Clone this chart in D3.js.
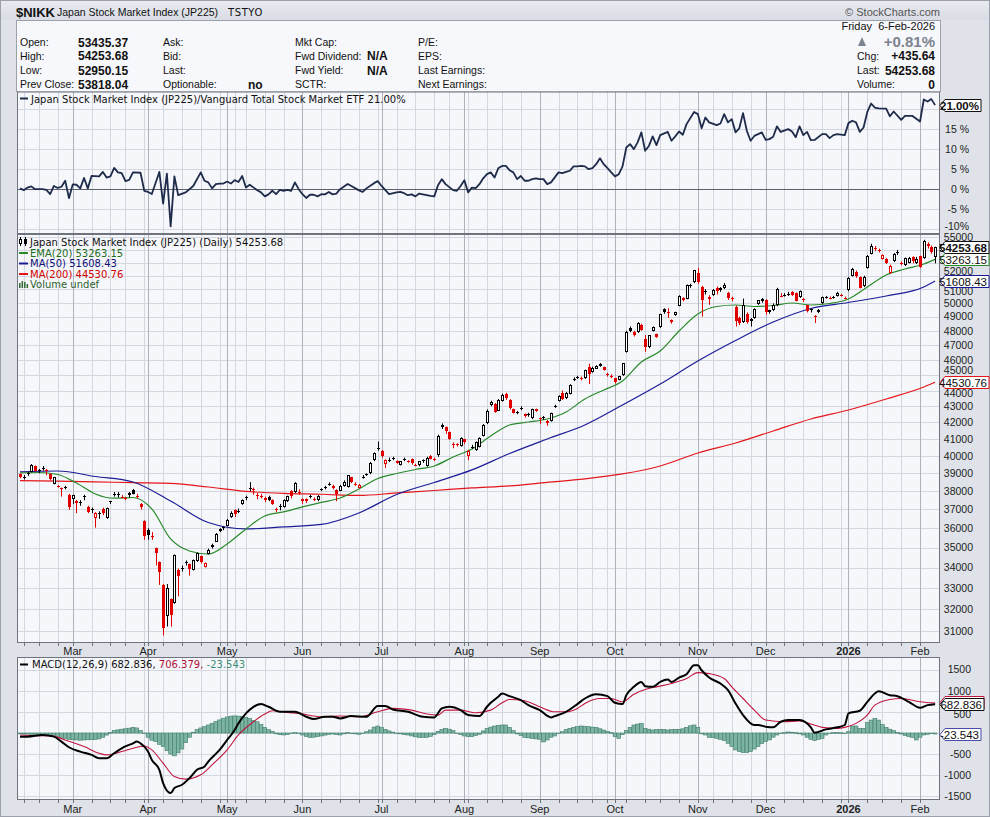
<!DOCTYPE html>
<html><head><meta charset="utf-8">
<script src="https://cdn.jsdelivr.net/npm/d3@7"></script>
<style>
body{margin:0;background:#fff;}
svg{display:block;font-family:"Liberation Sans",Arial,sans-serif;}
</style></head><body>
<svg id="chart" width="990" height="817"></svg>
<script>
// trading calendar (TSE)
var firstDay = "2025-02-07", lastDay = "2026-02-06";
var holidays = ["2025-02-11","2025-02-24","2025-03-20","2025-04-29","2025-05-05","2025-05-06","2025-07-21","2025-08-11","2025-09-15","2025-09-23","2025-10-13","2025-11-03","2025-11-24","2025-12-31","2026-01-01","2026-01-02","2026-01-12"];
var monthLabels = ["Mar","Apr","May","Jun","Jul","Aug","Sep","Oct","Nov","Dec","2026","Feb"];

var open = [38950,38780,39010,39100,39400,39150,39300,39180,38950,38400,
38290,38160,38230,37800,37560,37460,37400,37750,37157,37000,
36550,36800,37050,36540,37450,37830,37840,37700,37620,37880,
38065,37750,37300,36390,35915,35600,34970,34260,33150,31660,
32470,32280,33890,33950,34250,34180,33880,34300,34550,34050,
34700,35140,35310,35950,36000,36120,36590,36950,36900,37270,
37680,38150,38140,37800,37760,37650,37690,37500,37050,37140,
37120,37460,38000,37960,37980,37550,37550,37720,37570,37500,
38100,38200,38400,38280,38057,38020,38280,38243,38770,38420,
38200,38760,38920,39000,39757,40450,40300,39520,39760,39900,
39700,39500,39800,39700,39800,39470,39450,39740,39400,39990,
39800,40040,41700,41700,41400,40720,40700,40600,40970,40000,
40530,40340,40550,41170,41940,43100,43150,42730,43360,43780,
43400,42800,42620,42900,42500,42480,42250,42800,42280,42300,
42080,42080,43000,43316,43840,43500,43780,44750,44880,44800,
44800,45500,45180,45420,45600,45520,45060,44950,44780,44700,
45000,46550,48181,47900,47900,48415,47450,46850,48000,47760,
48230,49550,49330,48740,49100,49790,50330,50300,51250,51500,
52200,51180,50850,50450,50600,51050,50900,51100,50700,50350,
49700,48900,48600,49200,48800,48900,49900,50100,50200,49450,
49450,49800,50500,50560,50640,50800,50700,50400,50300,49800,
49490,49020,49300,49950,50390,50360,50390,50500,50550,50360,
50900,52000,52300,51900,51200,52600,53700,54130,53960,53300,
53300,52200,53100,53820,53000,52800,53000,53420,52950,53500,
53350,54500,54200,53435.37];
var high = [38980,38900,39100,39530,39450,39250,39420,39250,38990,38800,
38330,38200,38300,37850,37800,37520,37500,37800,37200,37100,
36850,36900,37100,37100,37450,37950,37950,37780,37700,37950,
38120,37850,37350,36420,36000,35800,35000,34300,33200,33190,
32500,34650,33950,34100,34350,34200,34400,34750,34600,34250,
34950,35200,35750,36000,36100,36500,36900,37000,37050,37550,
37750,38500,38200,37900,37850,37700,37750,37550,37100,37300,
37550,37750,38050,38500,38100,37600,37600,37800,37650,37780,
38150,38300,38500,38350,38100,38350,38600,38900,38800,38500,
38400,38900,39000,39650,40200,40850,40350,39800,39900,39950,
39750,39700,39900,39750,39850,39550,39700,39800,39950,40050,
39900,41250,41940,41750,41450,40800,40750,41100,41000,40350,
40650,40850,41100,41900,42800,43350,43200,43450,43800,43850,
43450,42850,42700,43000,42550,42600,42850,42850,42300,42400,
42150,42600,43100,43700,44000,43900,44400,44850,44950,44900,
45350,45750,45550,45650,45800,45550,45150,45050,44800,44950,
45800,48000,48300,48000,48600,48500,47700,47700,48300,47800,
49200,49600,49600,48800,49350,50550,50400,51350,51400,52450,
52600,51250,51000,50550,51000,51200,51150,51450,50800,50450,
49800,49000,50300,49300,48900,49600,50200,50350,50250,49500,
49950,51100,50700,50700,50800,50850,50750,50900,50350,49850,
49600,49100,49550,50450,50500,50450,50500,50800,50650,50450,
51900,52600,52400,51950,52000,53600,54487,54300,54100,53650,
53350,52850,53750,54000,53100,53400,53450,53500,53450,53550,
54800,54600,54350,54253.68];
var low = [38720,38650,38850,39050,39100,39000,39150,38900,38600,38380,
38200,37700,38100,36980,37300,36800,37200,37500,36800,36800,
36034,36500,36700,36500,37300,37700,37650,37600,37500,37650,
37820,37600,37000,35400,35400,35400,34100,33150,30792,31200,
31200,32250,32600,33800,34100,33600,33850,34280,34200,34000,
34650,34950,35300,35800,35900,36100,36550,36600,36800,37250,
37500,38000,37800,37550,37600,37400,37450,37250,36850,36950,
37100,37400,37600,37900,37800,37300,37350,37600,37450,37450,
38000,38100,38300,38100,37450,38000,38250,38200,38450,38300,
38150,38700,38850,38950,39700,40300,39900,39300,39650,39750,
39550,39450,39700,39600,39500,39400,39400,39600,39380,39800,
39700,39950,41600,41300,40950,40450,40550,40550,40700,39757,
40400,40300,40500,41150,41900,43000,42600,42700,43300,43400,
42800,42550,42500,42750,42300,42350,42200,42650,41900,42150,
41800,42050,42900,43300,43400,43450,43750,44600,44750,44650,
44750,44420,45150,45400,45550,45300,44900,44800,44450,44650,
44950,46500,47900,47600,47850,48000,46550,46800,47950,47500,
48200,49200,48900,48500,49050,49750,50100,50250,51100,51450,
51400,49000,50600,49850,50500,50600,50800,51000,50200,50100,
48300,48400,48550,48500,48300,48850,49850,50000,49150,49200,
49400,49750,50400,50450,50500,50500,50100,50350,50050,49300,
49300,48550,49250,49900,50300,50250,50300,50450,50450,50250,
50850,51950,51850,51050,51150,52550,53650,53900,53800,53250,
52900,52150,53050,53600,52800,52750,52950,52950,52900,52600,
53300,54100,53700,52950.15];
var close = [38787,38801,38963,39461,39149,39174,39270,39164,38678,38776,
38237,38142,38256,37155,37785,37331,37418,37705,36887,37028,
36793,36819,36790,37053,37396,37845,37860,37677,37608,37780,
37870,37734,37120,35617,35624,35580,34736,33781,31136,33012,
31714,34609,33586,33982,34267,33920,34377,34730,34280,34221,
34868,35039,35705,35840,36045,36452,36831,36780,36928,37503,
37644,38183,38128,37755,37753,37498,37529,37299,36985,37160,
37531,37724,37722,38432,37965,37470,37446,37747,37554,37741,
38088,38211,38421,38173,37834,38311,38536,38885,38488,38403,
38354,38790,38942,39584,40150,40487,39986,39762,39785,39810,
39587,39688,39821,39646,39569,39459,39678,39760,39901,39819,
39775,41171,41826,41456,40998,40674,40654,41069,40799,40290,
40549,40794,41059,41820,42718,43274,42649,43378,43714,43546,
42888,42610,42633,42807,42394,42520,42829,42718,42188,42310,
41938,42580,43018,43643,43459,43837,44372,44768,44902,44790,
45303,45045,45493,45630,45754,45355,45043,44932,44550,44936,
45769,47944,47950,47734,48580,48088,46847,47672,48277,47582,
49185,49316,49307,48641,49299,50512,50219,51307,51325,52411,
51497,50212,50883,50276,50911,50842,51063,51281,50376,50323,
48702,48537,49823,48625,48659,49559,50167,50253,49303,49330,
49864,51028,50491,50581,50655,50602,50148,50836,50168,49383,
49512,49001,49507,50402,50412,50344,50407,50750,50526,50339,
51832,52518,51961,51117,51940,53549,54341,54110,53936,53583,
52991,52774,53689,53846,52885,53333,53358,53100,53322,52655,
54720,54293,53818.04,54253.68];

var emaIdx = [0,5,10,15,20,25,30,35,40,45,50,55,60,65,70,75,80,85,90,95,100,105,110,115,120,125,130,135,140,145,150,155,160,165,170,175,180,185,190,195,200,205,210,215,220,225,230,235,240,243];
var emaVal = [39018,39046,38933,38452,37846,37611,37651,37028,35444,34829,34675,35187,35965,36651,36866,37136,37383,37623,38121,38709,38990,39217,39417,39937,40407,41179,41845,42027,42213,42647,43460,44034,44614,45864,46606,47981,49185,49727,49836,49727,49800,49980,49836,49944,50271,51161,52064,52521,52901,53263.15];
var maIdx = [0,10,20,30,40,50,60,70,80,90,100,110,120,130,140,150,160,170,180,190,200,210,220,230,240,243];
var ma50Val = [39078,39133,38820,38511,37460,36302,35965,36069,36200,36813,37817,38484,39193,40143,41000,41845,43082,44418,45930,47322,48614,49582,50017,50495,51161,51608.43];
var ma200Val = [38582,38555,38521,38471,38436,38229,37985,37874,37830,37762,37901,38037,38177,38290,38484,38682,38964,39417,40171,40762,41482,42213,42770,43460,44227,44530.76];

var ratioIdx = [0,1,2,3,4,6,7,8,9,10,11,12,13,14,15,16,17,18,19,21,22,23,24,25,26,27,28,29,30,32,33,34,35,37,38,39,40,41,42,44,46,48,49,50,51,52,53,54,55,56,57,58,59,60,61,63,64,65,66,67,68,69,70,71,72,73,74,75,76,77,78,79,80,81,82,83,84,85,87,88,90,91,92,94,95,96,98,100,101,102,103,104,105,106,108,109,110,111,112,113,115,116,117,118,119,120,121,122,123,124,125,126,127,128,129,130,131,132,133,134,135,136,137,138,139,140,141,143,144,145,146,147,148,149,150,151,152,153,154,155,156,157,158,159,160,161,162,163,164,165,166,167,168,169,170,172,173,174,175,176,177,179,180,181,182,183,185,186,187,188,189,190,191,192,193,194,195,197,198,199,200,201,202,204,205,206,207,208,209,210,211,213,214,215,216,217,219,220,221,222,223,224,225,226,227,228,230,231,232,234,235,237,239,240,241,242,243];
var ratioVal = [0.2,-0.25,0.4,0.7,0,0,-0.2,-1.25,0.8,0.3,0.6,2.1,-2.25,1.2,1.1,0.2,2.8,0.2,3.3,3.2,4.3,2.9,3.2,5.3,4.2,4.0,2.0,2.3,4.2,4.1,-0.4,-0.7,-1.2,4.3,-3.6,3.9,-9.3,3.2,-1.5,-0.8,0.8,4.2,2.1,1.7,0.2,1.25,1.4,1.4,1.9,1.4,2.25,1.8,3.3,0.4,1.1,-0.25,-0.8,-1.8,-1.3,-0.4,-1.25,-0.2,-0.4,-0.2,-0.4,1.7,0,-1.25,-2.2,-1.4,-1.4,-1.8,-1.25,-1.3,-0.7,-1.3,-1.1,0,1.3,0.8,-0.3,-0.7,0.2,1.5,2.0,0.8,-1.25,-0.8,-0.7,-1.0,-1.5,-1.3,-1.8,-1.1,-1.5,-1.7,-1.8,1.0,2.5,1.25,-0.25,-0.4,0.8,2.25,-0.8,0.4,0.25,1.25,2.7,3.75,4.2,2.9,5.2,5.8,5.8,4.75,4.2,2.5,3.3,2.1,2.1,2.5,2.7,2.5,2.5,1.25,1.7,4.2,4.0,4.3,4.6,5.7,5.7,5.8,5.7,5.0,5.25,6.25,7.7,6.25,5.25,4.2,3.2,3.75,5.7,10.4,11.25,10.0,11.7,14.2,9.6,10.8,13.2,11.0,13.5,14.3,12.1,13.2,14.4,13.6,16.25,19.3,18.75,15.2,17.9,16.7,16.0,16.4,18.75,16.7,17.5,14.2,15.2,19.0,14.6,12.1,13.3,14.2,12.3,12.5,13.1,15.7,14.3,15.0,14.4,13.0,15.7,13.5,14.3,12.25,12.3,13.75,13.75,12.75,13.5,13.75,13.5,16.5,17.1,16.7,14.3,15.4,19.3,21.4,20.4,20.2,20.1,18.2,19.4,17.3,18.3,18.3,16.9,22.4,21.9,22.5,21.0];

var macdIdx = [0,2,6,9,11,13,16,19,21,23,25,27,30,31,32,34,35,37,38,40,41,43,45,47,49,50,53,55,57,58,60,62,64,66,69,73,76,78,81,83,85,88,92,95,97,99,103,107,110,112,114,117,119,122,124,125,127,128,130,133,135,138,141,142,145,148,150,153,156,158,160,161,163,165,166,168,170,172,173,175,177,179,180,181,183,186,188,190,192,195,196,198,200,202,204,207,210,211,214,217,219,220,223,225,227,228,231,233,236,239,241,243];
var macdVal = [-86,-86,-47,-86,-204,-338,-440,-519,-597,-597,-479,-362,-244,-204,-244,-440,-637,-872,-1187,-1423,-1305,-1226,-1069,-872,-794,-676,-401,-165,71,228,464,621,684,621,503,503,385,330,385,385,346,401,385,637,637,558,503,385,369,582,621,542,424,401,621,715,857,935,872,778,660,542,369,401,503,684,817,920,872,715,684,896,1093,1210,1108,1093,1210,1265,1210,1313,1391,1603,1603,1486,1313,1171,1014,700,424,189,189,149,134,267,307,307,134,8,86,134,189,464,527,739,935,990,896,872,739,597,660,682.836];
var sigIdx = [0,4,8,12,17,21,23,27,30,33,35,38,41,44,48,51,55,58,62,65,67,71,74,80,85,90,95,99,104,108,111,113,117,121,125,128,130,134,138,142,145,148,150,154,157,160,163,166,169,173,177,180,183,187,189,192,195,198,203,207,210,213,217,219,222,225,227,231,234,239,243];
var sigVal = [-47,-63,-63,-165,-322,-479,-519,-440,-362,-307,-401,-715,-1030,-1093,-990,-755,-401,-47,267,448,527,487,464,385,401,385,503,582,542,448,424,542,542,479,542,715,794,762,621,503,503,582,700,817,817,739,920,1030,1093,1171,1289,1431,1407,1289,1093,817,542,307,267,283,212,134,110,134,228,424,660,794,817,739,706.379];
var hist = [-20,-25,-25,-30,-30,-35,-45,-55,-65,-80,
-95,-110,-130,-150,-160,-165,-170,-165,-160,-160,
-155,-140,-100,-50,10,55,75,90,100,115,
134,120,60,-10,-100,-170,-204,-270,-322,-420,
-500,-540,-470,-380,-230,-100,20,80,120,150,
190,230,270,310,350,380,400,405,400,390,
370,346,300,267,200,134,80,40,-20,-40,
-47,-40,-10,8,-10,-47,-80,-102,-100,-86,
-70,-50,-30,-24,-40,-47,-20,8,0,-20,
-30,-10,30,71,140,165,130,86,50,20,
0,-20,-40,-47,-70,-90,-102,-102,-102,-80,
-40,40,86,110,90,55,0,-40,-70,-86,
-86,-60,-30,50,110,140,165,180,190,190,
134,55,-20,-60,-102,-115,-126,-140,-149,-212,
-165,-100,-71,-10,31,80,110,134,150,165,
160,149,140,134,100,71,40,8,-86,-126,
-40,60,134,190,212,228,110,90,71,80,
86,80,71,80,86,86,100,134,170,190,
134,-20,-47,-102,-110,-126,-150,-180,-244,-320,
-400,-440,-464,-464,-440,-380,-322,-250,-204,-165,
-100,-47,0,8,24,15,8,-20,-47,-100,
-149,-180,-150,-126,-47,0,8,8,5,0,
30,165,165,110,110,250,306,346,306,200,
134,90,55,10,-24,-60,-86,-102,-165,-100,
-47,-31,-15,-23.543];

// axis ticks; labels left blank where the value tag sits on top of them
var pctTicks = [-10,-5,0,5,10,15,20];
var pctLabels = ["-10%","-5 %","0 %","5 %","10 %","15 %",""];
var priceTicks = [31000,32000,33000,34000,35000,36000,37000,38000,39000,40000,41000,42000,43000,44000,45000,46000,47000,48000,49000,50000,51000,52000,53000,54000,55000];
var priceLabels = ["31000","32000","33000","34000","35000","36000","37000","38000","39000","40000","41000","42000","43000","44000","45000","46000","47000","48000","49000","50000","51000","52000","","","55000"];
var macdTicks = [-1500,-1000,-500,0,500,1000,1500];
var macdLabels = ["-1500","-1000","-500","","500","1000","1500"];

// ---- setup
var fmt = d3.timeFormat("%Y-%m-%d"), parse = d3.timeParse("%Y-%m-%d");
var hol = new Set(holidays);
var days = d3.timeDay.range(parse(firstDay), d3.timeDay.offset(parse(lastDay), 1))
  .filter(function(d) { return d.getDay() % 6 !== 0 && !hol.has(fmt(d)); });

var W = 990, H = 817, L = 17, R = 940;
var T1 = 91.5, B1 = 234, T2 = 234, B2 = 643, T3 = 657, B3 = 800;
var x = d3.scaleLinear().domain([-0.8, 244.3]).range([L, R]);
var yR = d3.scaleLinear().domain([-11.2, 24.4]).range([B1, T1]);
var yP = d3.scaleLog().domain([30460, 55265]).range([B2, T2]);
var yM = d3.scaleLinear().domain([-1587, 1800]).range([B3, T3]);

var monthStarts = [], weekStarts = [];
days.forEach(function(d, i) {
  if (i === 0) return;
  var p = days[i - 1];
  if (d.getMonth() !== p.getMonth()) monthStarts.push(i);
  else if (d.getDay() < p.getDay() || (d - p) > 6 * 864e5) weekStarts.push(i);
});

var svg = d3.select('#chart');
var defs = svg.append('defs');
var bgGrad = defs.append('linearGradient').attr('id', 'hdr').attr('x1', 0).attr('y1', 0).attr('x2', 0).attr('y2', 1);
bgGrad.append('stop').attr('offset', 0).attr('stop-color', '#e9ebf0');
bgGrad.append('stop').attr('offset', 1).attr('stop-color', '#d9dce4');

svg.append('rect').attr('width', W).attr('height', H).attr('fill', '#dfe2e9');
svg.append('rect').attr('width', W).attr('height', 20).attr('fill', 'url(#hdr)');
svg.append('rect').attr('x', 0.5).attr('y', 0.5).attr('width', W - 1).attr('height', H - 1).attr('fill', 'none').attr('stroke', '#9ba0aa');

// ---- header
svg.append('text').attr('x', 16).attr('y', 16.5).attr('font-size', 13).attr('font-weight', 'bold').attr('fill', '#111').text('$NIKK');
svg.append('text').attr('x', 57).attr('y', 16).attr('font-size', 10.5).attr('fill', '#111').text('Japan Stock Market Index (JP225)');
svg.append('text').attr('x', 228).attr('y', 16).attr('font-size', 10).attr('font-family', 'DejaVu Sans').attr('letter-spacing', 0.6).attr('fill', '#111').text('TSTYO');
svg.append('text').attr('x', 940).attr('y', 16).attr('text-anchor', 'end').attr('font-size', 11).attr('fill', '#555').text('\u00a9 StockCharts.com');

svg.append('rect').attr('x', L - 0.5).attr('y', 20.5).attr('width', R - L + 1).attr('height', 71).attr('fill', '#f7f8fb').attr('stroke', '#9ba0aa');

var rowY = [46, 59.5, 74, 88];
var info = [
  {x: 20, t: ['Open:', 'High:', 'Low:', 'Prev Close:']},
  {x: 163, t: ['Ask:', 'Bid:', 'Last:', 'Optionable:']},
  {x: 295, t: ['Mkt Cap:', 'Fwd Dividend:', 'Fwd Yield:', 'SCTR:']},
  {x: 418, t: ['P/E:', 'EPS:', 'Last Earnings:', 'Next Earnings:']}
];
info.forEach(function(c) {
  c.t.forEach(function(s, k) {
    svg.append('text').attr('x', c.x).attr('y', rowY[k]).attr('font-size', 10.5).attr('fill', '#111').text(s);
  });
});
var infoVals = [[78, 0, '53435.37'], [78, 1, '54253.68'], [78, 2, '52950.15'], [78, 3, '53818.04'], [248, 3, 'no'], [367, 1, 'N/A'], [367, 2, 'N/A']];
infoVals.forEach(function(v) {
  svg.append('text').attr('x', v[0]).attr('y', rowY[v[1]] + 0.5).attr('font-size', 12).attr('font-weight', 'bold').attr('fill', '#111').text(v[2]);
});
svg.append('text').attr('x', 935).attr('y', 30).attr('text-anchor', 'end').attr('font-size', 11).attr('fill', '#111').text('Friday\u00a0\u00a06-Feb-2026');
svg.append('path').attr('d', 'M858,46 L862,37 L866,46 Z').attr('fill', '#7d838f');
svg.append('text').attr('x', 935).attr('y', 47).attr('text-anchor', 'end').attr('font-size', 15).attr('font-weight', 'bold').attr('fill', '#7d838f').text('+0.81%');
[['Chg:', '+435.64', 59.5], ['Last:', '54253.68', 74], ['Volume:', '0', 88]].forEach(function(r) {
  svg.append('text').attr('x', 857).attr('y', r[2]).attr('font-size', 10.5).attr('fill', '#111').text(r[0]);
  svg.append('text').attr('x', 935).attr('y', r[2] + 0.5).attr('text-anchor', 'end').attr('font-size', 12).attr('font-weight', 'bold').attr('fill', '#111').text(r[1]);
});

// ---- panels
function panel(t, b, ticks, yScale, id) {
  svg.append('rect').attr('x', L).attr('y', t).attr('width', R - L).attr('height', b - t).attr('fill', '#f6f7fb');
  defs.append('clipPath').attr('id', id).append('rect').attr('x', L).attr('y', t).attr('width', R - L).attr('height', b - t);
  var g = svg.append('g').attr('clip-path', 'url(#' + id + ')');
  g.selectAll('.h').data(ticks).enter().append('line')
    .attr('x1', L).attr('x2', R)
    .attr('y1', function(d) { return Math.round(yScale(d)) + 0.5; })
    .attr('y2', function(d) { return Math.round(yScale(d)) + 0.5; })
    .attr('stroke', '#d4d7df');
  g.selectAll('.w').data(weekStarts).enter().append('line')
    .attr('x1', function(i) { return Math.round(x(i)) + 0.5; }).attr('x2', function(i) { return Math.round(x(i)) + 0.5; })
    .attr('y1', t).attr('y2', b).attr('stroke', '#d4d7df');
  g.selectAll('.m').data(monthStarts).enter().append('line')
    .attr('x1', function(i) { return Math.round(x(i)) + 0.5; }).attr('x2', function(i) { return Math.round(x(i)) + 0.5; })
    .attr('y1', t).attr('y2', b).attr('stroke', '#aeb2bc');
  return g;
}
function frame(t, b) {
  svg.append('rect').attr('x', L + 0.5).attr('y', t + 0.5).attr('width', R - L - 1).attr('height', b - t - 1)
    .attr('fill', 'none').attr('stroke', '#6f737d');
}

// ratio panel
var g1 = panel(T1, B1, pctTicks, yR, 'c1');
g1.append('line').attr('x1', L).attr('x2', R).attr('y1', Math.round(yR(0)) + 0.5).attr('y2', Math.round(yR(0)) + 0.5).attr('stroke', '#5d616b');
var ratioPts = ratioIdx.map(function(d, k) { return [x(d), yR(ratioVal[k])]; });
g1.append('path').attr('d', d3.line()(ratioPts)).attr('fill', 'none').attr('stroke', '#1e2b4a').attr('stroke-width', 1.8).attr('stroke-linejoin', 'round');
frame(T1, B1);

// price panel
var g2 = panel(T2, B2, priceTicks, yP, 'c2');
function maLine(idx, vals, col) {
  var pts = idx.map(function(d, k) { return [x(d), yP(vals[k])]; });
  g2.append('path').attr('d', d3.line().curve(d3.curveMonotoneX)(pts)).attr('fill', 'none').attr('stroke', col).attr('stroke-width', 1.2);
}
maLine(maIdx, ma200Val, '#e4161b');
maLine(maIdx, ma50Val, '#1c1c96');
maLine(emaIdx, emaVal, '#2a8a2a');

var cdl = g2.selectAll('.cdl').data(close).enter().append('g');
cdl.each(function(c, i) {
  var o = open[i], h = high[i], l = low[i];
  var prev = i > 0 ? close[i - 1] : o;
  var col = c >= prev ? '#000' : '#e00000';
  var hollow = c > o;
  var xc = Math.round(x(i)) + 0.5;
  var top = Math.round(yP(Math.max(o, c))), bot = Math.round(yP(Math.min(o, c)));
  var g = d3.select(this);
  if (hollow && bot - top >= 2) {
    g.append('line').attr('x1', xc).attr('x2', xc).attr('y1', yP(h)).attr('y2', top).attr('stroke', col);
    g.append('line').attr('x1', xc).attr('x2', xc).attr('y1', bot).attr('y2', yP(l)).attr('stroke', col);
    g.append('rect').attr('x', xc - 1).attr('y', top + 0.5).attr('width', 2).attr('height', bot - top - 1)
      .attr('fill', '#fff').attr('stroke', col);
  } else {
    g.append('line').attr('x1', xc).attr('x2', xc).attr('y1', yP(h)).attr('y2', yP(l)).attr('stroke', col);
    g.append('rect').attr('x', xc - 1.5).attr('y', top).attr('width', 3).attr('height', Math.max(1, bot - top)).attr('fill', col);
  }
});
frame(T2, B2);

// macd panel
var g3 = panel(T3, B3, macdTicks, yM, 'c3');
g3.selectAll('.hb').data(hist).enter().append('rect')
  .attr('x', function(d, i) { return x(i) - 1.88; })
  .attr('width', 3.77)
  .attr('y', function(d) { return Math.min(yM(d), yM(0)); })
  .attr('height', function(d) { return Math.max(0.6, Math.abs(yM(d) - yM(0))); })
  .attr('fill', '#7cb3a2').attr('stroke', '#3f7d6b').attr('stroke-width', 0.6);
var sigPts = sigIdx.map(function(d, k) { return [x(d), yM(sigVal[k])]; });
g3.append('path').attr('d', d3.line().curve(d3.curveMonotoneX)(sigPts)).attr('fill', 'none').attr('stroke', '#c0173f').attr('stroke-width', 1.1);
var macdPts = macdIdx.map(function(d, k) { return [x(d), yM(macdVal[k])]; });
g3.append('path').attr('d', d3.line().curve(d3.curveMonotoneX)(macdPts)).attr('fill', 'none').attr('stroke', '#000').attr('stroke-width', 2);
frame(T3, B3);

// ---- date axes
function dateAxis(yTick, yText) {
  svg.selectAll(null).data(weekStarts.concat(monthStarts)).enter().append('line')
    .attr('x1', function(i) { return Math.round(x(i)) + 0.5; }).attr('x2', function(i) { return Math.round(x(i)) + 0.5; })
    .attr('y1', yTick).attr('y2', yTick + 3).attr('stroke', '#6f737d');
  svg.selectAll(null).data(monthStarts).enter().append('text')
    .attr('x', function(i) { return x(i); }).attr('y', yText)
    .attr('text-anchor', 'middle').attr('font-size', 11).attr('fill', '#222')
    .attr('font-weight', function(i, k) { return monthLabels[k] === '2026' ? 'bold' : 'normal'; })
    .text(function(i, k) { return monthLabels[k]; });
}
dateAxis(B2, 654.5);
dateAxis(B3, 812.5);

// ---- value tags (positions on the right axis)
var priceTags = [yP(53263.15), yP(51608.43), yP(44530.76)];
var macdTags = [yM(682.836), yM(-23.543)];

// ---- right axes; labels partly under a tag are nudged a few px off it
function rightAxis(ticks, labels, yScale, xr, tags, maxShift) {
  svg.selectAll(null).data(ticks).enter().append('text')
    .attr('x', xr)
    .attr('y', function(d) {
      var y = yScale(d);
      tags.forEach(function(t) {
        var dy = y - t;
        if (Math.abs(dy) < 12 && Math.abs(dy) > 3) y = t + (dy > 0 ? 1 : -1) * Math.min(12, Math.abs(dy) + (dy > 0 ? 2.5 : maxShift));
      });
      if (d === -10 && yScale === yR) y -= 3;
      return y + 3.8;
    })
    .attr('text-anchor', 'end').attr('font-size', 10.5).attr('fill', '#222')
    .text(function(d, k) { return labels[k]; });
}
rightAxis(pctTicks, pctLabels, yR, 969, [], 0);
rightAxis(priceTicks, priceLabels, yP, 973, priceTags, 5);
rightAxis(macdTicks, macdLabels, yM, 971, macdTags, 5);

function tag(y, txt, stroke, bold, w) {
  var x0 = R, x1 = x0 + 5, x2 = x0 + (w || 49);
  svg.append('path').attr('d', 'M' + x0 + ',' + y + ' L' + x1 + ',' + (y - 6) + ' L' + x2 + ',' + (y - 6) + ' L' + x2 + ',' + (y + 6) + ' L' + x1 + ',' + (y + 6) + ' Z')
    .attr('fill', '#fff').attr('stroke', stroke).attr('stroke-width', 1);
  if (txt) svg.append('text').attr('x', x2 - 2).attr('y', y + 4).attr('text-anchor', 'end').attr('font-size', 11.5)
    .attr('font-weight', bold ? 'bold' : 'normal').attr('fill', '#111').text(txt);
}
tag(Math.round(yR(21.0)) + 0.5, '21.00%', '#111', true, 41);
tag(Math.round(yP(44530.76)) + 0.5, '44530.76', '#e4161b', false, 49);
tag(Math.round(yP(51608.43)) + 0.5, '51608.43', '#1c1c96', false, 49);
tag(Math.round(yP(53263.15)) + 0.5, '53263.15', '#2a8a2a', false, 49);
tag(Math.round(yP(54253.68)) + 0.5, '54253.68', '#111', true, 49);
tag(Math.round(yM(706.379)) - 0.5, '', '#c0173f', false, 44);
tag(Math.round(yM(682.836)) + 0.5, '682.836', '#111', false, 44);
tag(Math.round(yM(-23.543)) + 0.5, '-23.543', '#4a4aa8', false, 41);

// ---- legends
var lf = 'DejaVu Sans';
svg.append('line').attr('x1', 20).attr('x2', 28).attr('y1', 98.5).attr('y2', 98.5).attr('stroke', '#1e2b4a').attr('stroke-width', 2);
svg.append('text').attr('x', 31).attr('y', 102.5).attr('font-family', lf).attr('font-size', 10).attr('fill', '#111')
  .text('Japan Stock Market Index (JP225)/Vanguard Total Stock Market ETF 21.00%');

// candle glyph
svg.append('line').attr('x1', 20.5).attr('x2', 20.5).attr('y1', 237).attr('y2', 246).attr('stroke', '#000');
svg.append('rect').attr('x', 19.5).attr('y', 239.5).attr('width', 2).attr('height', 4).attr('fill', '#fff').attr('stroke', '#000');
svg.append('line').attr('x1', 25.5).attr('x2', 25.5).attr('y1', 237).attr('y2', 246).attr('stroke', '#000');
svg.append('rect').attr('x', 24).attr('y', 239).attr('width', 3).attr('height', 5).attr('fill', '#000');
svg.append('text').attr('x', 30).attr('y', 245.5).attr('font-family', lf).attr('font-size', 10).attr('fill', '#111')
  .text('Japan Stock Market Index (JP225) (Daily) 54253.68');
[['EMA(20) 53263.15', '#2a8a2a', '#1d6e1d', 256.5], ['MA(50) 51608.43', '#1c1c96', '#10107a', 267], ['MA(200) 44530.76', '#e4161b', '#d00000', 277.5]].forEach(function(r) {
  svg.append('line').attr('x1', 19).attr('x2', 28).attr('y1', r[3] - 3.5).attr('y2', r[3] - 3.5).attr('stroke', r[1]).attr('stroke-width', 2);
  svg.append('text').attr('x', 30).attr('y', r[3]).attr('font-family', lf).attr('font-size', 10).attr('fill', r[2]).text(r[0]);
});
[[19, 283, 5], [21.5, 281, 7], [24, 282, 6], [26.5, 284, 4]].forEach(function(b) {
  svg.append('rect').attr('x', b[0]).attr('y', b[1]).attr('width', 1.6).attr('height', b[2]).attr('fill', '#3c6e3c');
});
svg.append('text').attr('x', 30).attr('y', 288).attr('font-family', lf).attr('font-size', 10).attr('fill', '#2f5f2f').text('Volume undef');

svg.append('line').attr('x1', 20).attr('x2', 28).attr('y1', 664.5).attr('y2', 664.5).attr('stroke', '#000').attr('stroke-width', 2);
var ml = svg.append('text').attr('x', 32).attr('y', 668).attr('font-family', lf).attr('font-size', 10);
ml.append('tspan').attr('fill', '#111').text('MACD(12,26,9) 682.836, ');
ml.append('tspan').attr('fill', '#b0103a').text('706.379, ');
ml.append('tspan').attr('fill', '#3f8f76').text('-23.543');
</script>
</body></html>
